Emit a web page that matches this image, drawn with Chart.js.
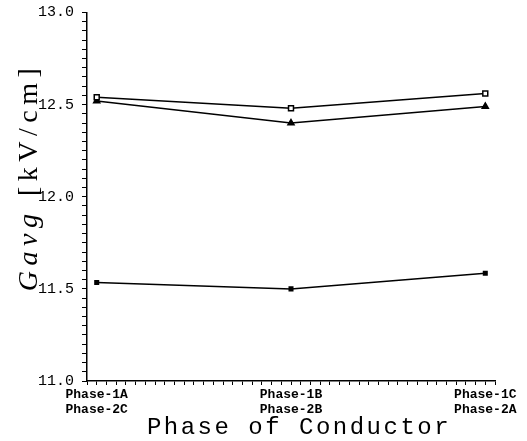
<!DOCTYPE html>
<html>
<head>
<meta charset="utf-8">
<script src="https://cdn.jsdelivr.net/npm/chart.js@4"></script>
<style>
  html, body { margin: 0; padding: 0; background: #fff; }
  #wrap { width: 527px; height: 441px; }
</style>
</head>
<body>
<div id="wrap"><canvas id="chart"></canvas></div>
<script>
// categories (x positions 0, 1, 2)
const phaseLabels = [
  ["Phase-1A", "Phase-2C"],
  ["Phase-1B", "Phase-2B"],
  ["Phase-1C", "Phase-2A"]
];
const phasePos = [0, 1, 2];

// Gavg values [kV/cm]
const seriesSquare = [12.54, 12.48, 12.56];
const seriesTriangle = [12.52, 12.40, 12.49];
const seriesLow = [11.535, 11.50, 11.585];

const yMin = 11.0, yMax = 13.0;

function toPoints(vals) {
  return vals.map((v, i) => ({ x: phasePos[i], y: v }));
}

// axis titles with wide letter spacing, drawn after the chart
const axisTitles = {
  id: "axisTitles",
  afterDraw(chart) {
    const ctx = chart.ctx;
    const a = chart.chartArea;
    ctx.save();
    ctx.fillStyle = "#000";
    ctx.textBaseline = "middle";
    ctx.textAlign = "center";
    if ("letterSpacing" in ctx) ctx.letterSpacing = "2.5px";
    ctx.font = "24px 'Liberation Mono', monospace";
    ctx.fillText("Phase of Conductor", (a.left + a.right) / 2 + 8, 428);

    // rotated y title: italic "Gavg" + " [kV/cm]"
    ctx.translate(30, 177);
    ctx.rotate(-Math.PI / 2);
    ctx.textAlign = "left";
    if ("letterSpacing" in ctx) ctx.letterSpacing = "5.5px";
    const p1 = "Gavg";
    const p2 = " [kV/cm]";
    ctx.font = "italic 28px 'Liberation Serif', serif";
    const w1 = ctx.measureText(p1).width;
    ctx.font = "28px 'Liberation Serif', serif";
    const w2 = ctx.measureText(p2).width;
    const start = -(w1 + w2) / 2;
    ctx.font = "italic 28px 'Liberation Serif', serif";
    ctx.fillText(p1, start, 0);
    ctx.font = "28px 'Liberation Serif', serif";
    ctx.fillText(p2, start + w1, 0);
    ctx.restore();
  }
};

const lineStyle = {
  borderColor: "#000",
  borderWidth: 1.5,
  pointBorderColor: "#000",
  pointBorderWidth: 1.5,
  tension: 0,
  fill: false
};

new Chart(document.getElementById("chart"), {
  type: "line",
  data: {
    datasets: [
      {
        ...lineStyle,
        label: "A",
        data: toPoints(seriesSquare),
        pointStyle: "rect",
        pointRadius: 3.5,
        pointBackgroundColor: "#fff"
      },
      {
        ...lineStyle,
        label: "B",
        data: toPoints(seriesTriangle),
        pointStyle: "triangle",
        pointRadius: 3.5,
        pointBackgroundColor: "#000"
      },
      {
        ...lineStyle,
        label: "C",
        data: toPoints(seriesLow),
        pointStyle: "rect",
        pointRadius: 2.5,
        pointBackgroundColor: "#000"
      }
    ]
  },
  options: {
    responsive: true,
    maintainAspectRatio: false,
    animation: false,
    layout: { padding: { left: 0, right: 32, top: 10, bottom: 0 } },
    plugins: {
      legend: { display: false },
      tooltip: { enabled: false }
    },
    scales: {
      x: {
        type: "linear",
        min: -0.05,
        max: 2.05,
        afterFit: s => { s.height = 60; },
        afterBuildTicks: s => {
          const t = [];
          for (let i = -1; i <= 41; i++) t.push({ value: i * 0.05 });
          s.ticks = t;
        },
        ticks: {
          autoSkip: false,
          maxRotation: 0,
          minRotation: 0,
          padding: 3,
          color: "#000",
          font: { family: "'Liberation Mono', monospace", size: 13, weight: "bold", lineHeight: 1.1 },
          callback: v => {
            const r = Math.round(v * 100);
            if (r % 100 === 0 && r >= 0) return phaseLabels[r / 100];
            return "";
          }
        },
        grid: {
          drawOnChartArea: false,
          color: "#000",
          tickLength: 4,
          lineWidth: 1
        },
        border: { color: "#000", width: 1.5 }
      },
      y: {
        min: yMin,
        max: yMax,
        afterFit: s => { s.width = 87; },
        afterBuildTicks: s => {
          const t = [];
          for (let i = 0; i <= 40; i++) t.push({ value: yMin + i * 0.05 });
          s.ticks = t;
        },
        ticks: {
          autoSkip: false,
          padding: 8,
          color: "#000",
          font: { family: "'Liberation Mono', monospace", size: 15, lineHeight: 0.6 },
          callback: v => {
            const r = Math.round(v * 100);
            return r % 50 === 0 ? (r / 100).toFixed(1) : "";
          }
        },
        grid: {
          drawOnChartArea: false,
          color: "#000",
          tickLength: 5,
          lineWidth: 1
        },
        border: { color: "#000", width: 1.5 }
      }
    }
  },
  plugins: [axisTitles]
});
</script>
</body>
</html>
